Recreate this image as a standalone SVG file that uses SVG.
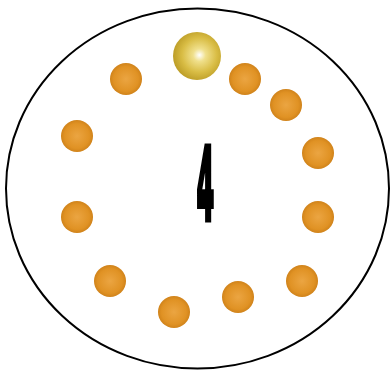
<svg xmlns="http://www.w3.org/2000/svg" width="390" height="370" viewBox="0 0 390 370">
<defs>
<radialGradient id="gold" cx="0.55" cy="0.48" r="0.6">
<stop offset="0" stop-color="#ffffff"/>
<stop offset="0.22" stop-color="#f0e08c"/>
<stop offset="0.6" stop-color="#d9bd45"/>
<stop offset="1" stop-color="#b5951f"/>
</radialGradient>
<radialGradient id="orange" cx="0.5" cy="0.5" r="0.55">
<stop offset="0" stop-color="#eba542"/>
<stop offset="0.7" stop-color="#e09224"/>
<stop offset="1" stop-color="#c97c16"/>
</radialGradient>
<style>
.b{fill:url(#orange)}
.num{font-family:"DejaVu Sans Condensed","DejaVu Sans",sans-serif;font-weight:bold;font-size:99px;fill:#000;stroke:#000;stroke-width:6px;stroke-linejoin:miter}
</style>
</defs>
<ellipse cx="197.5" cy="188.5" rx="191.5" ry="180" fill="#fff" stroke="#000" stroke-width="2"/>
<g id="gold-bead"><circle cx="197" cy="56" r="24" fill="url(#gold)"/></g>
<g id="beads">
<circle class="b" cx="126" cy="79" r="16"/>
<circle class="b" cx="245" cy="79" r="16"/>
<circle class="b" cx="286" cy="105" r="16"/>
<circle class="b" cx="318" cy="153" r="16"/>
<circle class="b" cx="318" cy="217" r="16"/>
<circle class="b" cx="302" cy="281" r="16"/>
<circle class="b" cx="238" cy="297" r="16"/>
<circle class="b" cx="174" cy="312" r="16"/>
<circle class="b" cx="110" cy="281" r="16"/>
<circle class="b" cx="77" cy="217" r="16"/>
<circle class="b" cx="77" cy="136" r="16"/>
</g>
<g id="number"><text class="num" transform="translate(205.5 219) scale(0.28 1)" text-anchor="middle">4</text></g>
</svg>
